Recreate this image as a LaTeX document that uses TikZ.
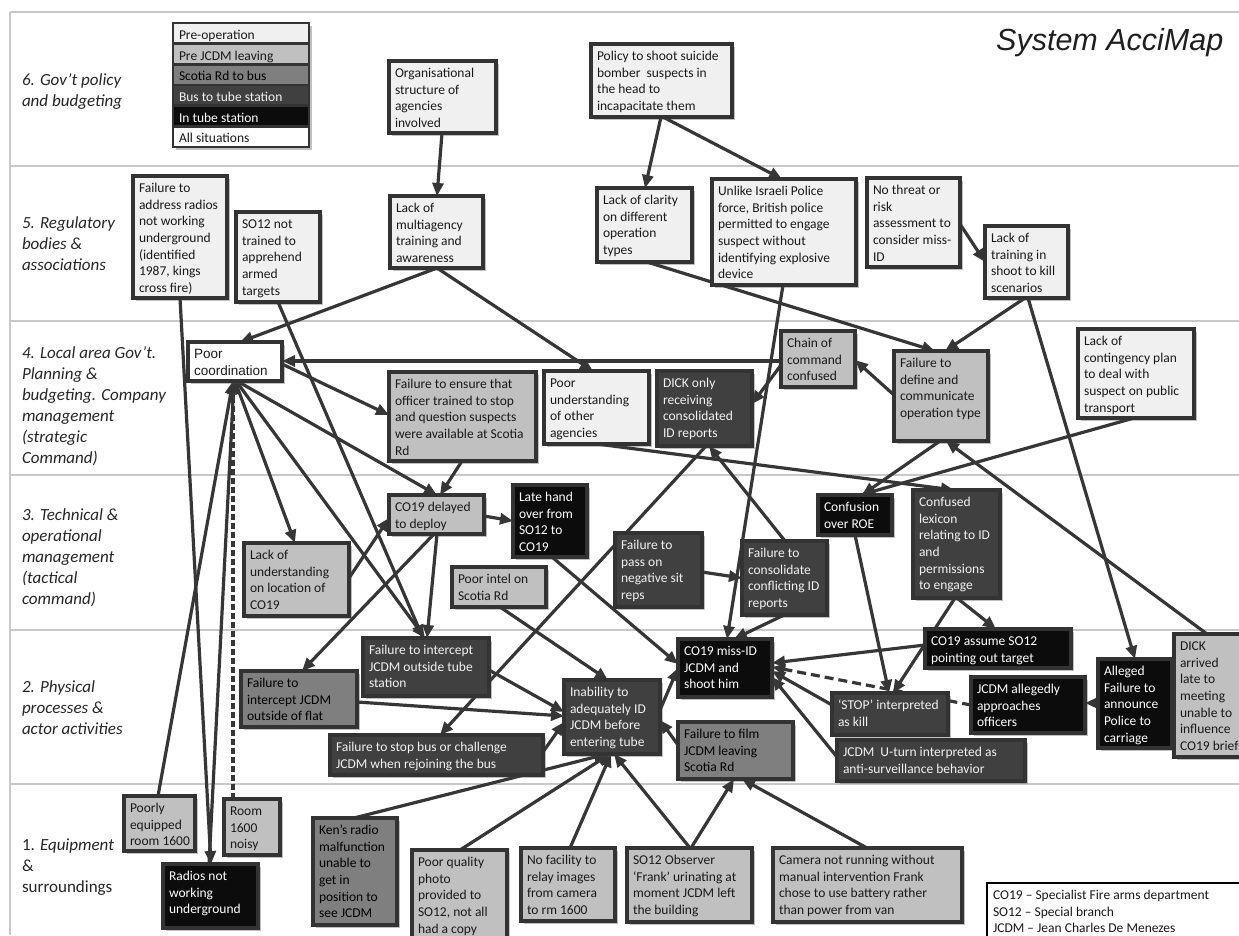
\documentclass[tikz,border=0pt]{standalone}
\usepackage{fontspec}
\setmainfont{Carlito}
\newfontfamily\arialfont{Liberation Sans}
\usetikzlibrary{arrows.meta,shadows}
\pgfdeclarelayer{back}
\pgfdeclarelayer{links}
\pgfsetlayers{back,links,main}

\definecolor{preop}{HTML}{F0F0F0}
\definecolor{prejcdm}{HTML}{C0C0C0}
\definecolor{scotia}{HTML}{7F7F7F}
\definecolor{bustube}{HTML}{404040}
\definecolor{intube}{HTML}{0C0C0C}
\definecolor{edge}{HTML}{333333}
\definecolor{wire}{HTML}{363636}
\definecolor{gridc}{HTML}{C8C8C8}
\definecolor{lighttext}{HTML}{F2F2F2}

\tikzset{
  shd/.style={drop shadow={shadow xshift=2.5pt, shadow yshift=-2.5pt, opacity=.35, fill=black!70}},
  box/.style={draw=edge, line width=3.2pt, outer sep=0pt, inner xsep=6pt, inner ysep=5pt,
    anchor=north west, text=black!90, font=\fontsize{13.5}{16.6}\selectfont},
  c1/.style={fill=preop, shd},
  c2/.style={fill=prejcdm, shd},
  c3/.style={fill=scotia, text=black, shd},
  c4/.style={fill=bustube, text=lighttext, shd},
  c5/.style={fill=intube, text=white, shd},
  c6/.style={fill=white, shd},
  leg/.style={line width=2.8pt},
  arialtext/.style={font=\arialfont\fontsize{13.5}{17}\selectfont},
  abbr/.style={fill=white, draw=black, line width=2pt},
  lab/.style={anchor=base west, inner sep=0pt, outer sep=0pt, text=black!85,
    font=\fontsize{17}{21}\selectfont},
  link/.style={draw=wire, line width=3.2pt, -{Triangle[length=13pt,width=11pt]}},
  dlink/.style={link, dash pattern=on 9pt off 5pt},
  slink/.style={link, dash pattern=on 6pt off 3pt},
}

% a block of left-aligned lines
\newcommand\lines[1]{\begin{tabular}[t]{@{}l@{}}#1\end{tabular}}
% box: name, styles, x1, y1, x2, y2, text (pixel units, y downwards)
\newcommand\mkbox[7]{%
  \pgfmathsetmacro\bw{#5-#3-12}%
  \pgfmathsetmacro\bh{#6-#4-10}%
  \node[box,#2] (#1) at (#3,#4) {\parbox[c][\bh pt][t]{\bw pt}{\lines{#7}}};%
}
% connector between two nodes, end points given relative to their north west corners
\newcommand\lk[5][link]{%
  \draw[#1] ([shift={(#3)}]#2.north west) -- ([shift={(#5)}]#4.north west);%
}

\begin{document}
\begin{tikzpicture}[x=1pt, y=-1pt]
\path[use as bounding box] (0,0) rectangle (1239,935);
\clip (0,0) rectangle (1239,935);

\begin{pgfonlayer}{back}
  \fill[white] (0,0) rectangle (1239,935);
  \foreach \yy in {12,166,321,475,630,784}
    \draw[gridc, line width=1.5pt] (10,\yy) -- (1239,\yy);
  \draw[gridc, line width=1.5pt] (10,12) -- (10,935);
\end{pgfonlayer}

% level labels
\node[lab] (lab6) at (22,85) {\itshape\lines{6. Gov’t policy\\and budgeting}};
\node[lab] (lab5) at (22,228.5) {\itshape\lines{5. Regulatory\\bodies \&\\associations}};
\node[lab] (lab4) at (22,358.5) {\itshape\lines{4. Local area Gov’t.\\Planning \&\\budgeting. Company\\management\\(strategic\\Command)}};
\node[lab] (lab3) at (22,520.5) {\itshape\lines{3. Technical \&\\operational\\management\\(tactical\\command)}};
\node[lab] (lab2) at (22,692.5) {\itshape\lines{2. Physical\\processes \&\\actor activities}};
\node[lab] (lab1) at (22,850.5) {\lines{1. \textit{Equipment}\\\&\\surroundings}};

\node[anchor=base west, inner sep=0pt, text=black!88,
  font=\arialfont\itshape\fontsize{30.5}{36}\selectfont] (title) at (996,50) {System AcciMap};

% colour key
\mkbox{legA}{c1,leg}{173}{23}{309}{43.67}{Pre-operation}
\mkbox{legB}{c2,leg}{173}{43.67}{309}{64.33}{Pre JCDM leaving}
\mkbox{legC}{c3,leg}{173}{64.33}{309}{85}{Scotia Rd to bus}
\mkbox{legD}{c4,leg}{173}{85}{309}{105.67}{Bus to tube station}
\mkbox{legE}{c5,leg}{173}{105.67}{309}{126.33}{In tube station}
\mkbox{legF}{c6,leg}{173}{126.33}{309}{147}{All situations}

% level 6
\mkbox{org}{c1}{389}{61}{496}{133}{Organisational\\structure of\\agencies\\involved}
\mkbox{policy}{c1}{591}{44}{732}{117}{Policy to shoot suicide\\bomber\ \ suspects in\\the head to\\incapacitate them}

% level 5
\mkbox{addr}{c1}{133}{176}{227}{298}{Failure to\\address radios\\not working\\underground\\(identified\\1987, kings\\cross fire)}
\mkbox{so12nt}{c1}{236}{212}{320}{302}{SO12 not\\trained to\\apprehend\\armed\\targets}
\mkbox{multi}{c1}{390}{196}{483}{268}{Lack of\\multiagency\\training and\\awareness}
\mkbox{clarity}{c1}{597}{188}{692}{262}{Lack of clarity\\on different\\operation\\types}
\mkbox{israeli}{c1}{712}{179}{856}{285}{Unlike Israeli Police\\force, British police\\permitted to engage\\suspect without\\identifying explosive\\device}
\mkbox{nothreat}{c1}{867}{178}{960}{267}{No threat or\\risk\\assessment to\\consider miss-\\ID}
\mkbox{training}{c1}{985}{226}{1068}{298}{Lack of\\training in\\shoot to kill\\scenarios}

% level 4
\mkbox{poorcoord}{c6,arialtext}{188}{342}{282}{381}{Poor\\coordination}
\mkbox{ensure}{c2}{389}{372}{536}{461}{Failure to ensure that\\officer trained to stop\\and question suspects\\were available at Scotia\\Rd}
\mkbox{poorund}{c1}{544}{371}{649}{444}{Poor\\understanding\\of other\\agencies}
\mkbox{dick}{c4}{657}{371}{752}{446}{DICK only\\receiving\\consolidated\\ID reports}
\mkbox{chain}{c2}{781}{331}{855}{387}{Chain of\\command\\confused}
\mkbox{define}{c2}{894}{351}{988}{441}{Failure to\\define and\\communicate\\operation type}
\mkbox{conting}{c1}{1078}{329}{1194}{418}{Lack of\\contingency plan\\to deal with\\suspect on public\\transport}

% level 3
\mkbox{lackund}{c2}{244}{543}{349}{616}{Lack of\\understanding\\on location of\\CO19}
\mkbox{delayed}{c2}{389}{495}{484}{534}{CO19 delayed\\to deploy}
\mkbox{handover}{c5}{513}{485}{587}{557}{Late hand\\over from\\SO12 to\\CO19}
\mkbox{intel}{c2}{452}{567}{546}{607}{Poor intel on\\Scotia Rd}
\mkbox{passon}{c4}{615}{533}{702}{607}{Failure to\\pass on\\negative sit\\reps}
\mkbox{consol}{c4}{742}{541}{827}{615}{Failure to\\consolidate\\conflicting ID\\reports}
\mkbox{roe}{c5}{818}{495}{892}{535}{Confusion\\over ROE}
\mkbox{lexicon}{c4}{913}{490}{1000}{598}{Confused\\lexicon\\relating to ID\\and\\permissions\\to engage}

% level 2
\mkbox{tube}{c4}{363}{638}{489}{696}{Failure to intercept\\JCDM outside tube\\station}
\mkbox{flat}{c3}{241}{671}{357}{727}{Failure to\\intercept JCDM\\outside of flat}
\mkbox{stopbus}{c4}{330}{735}{543}{775}{Failure to stop bus or challenge\\JCDM when rejoining the bus}
\mkbox{inability}{c4}{564}{680}{660}{754}{Inability to\\adequately ID\\JCDM before\\entering tube}
\mkbox{missid}{c5}{678}{639}{772}{697}{CO19 miss-ID\\JCDM and\\shoot him}
\mkbox{film}{c3}{678}{722}{793}{779}{Failure to film\\JCDM leaving\\Scotia Rd}
\mkbox{assume}{c5}{925}{629}{1071}{668}{CO19 assume SO12\\pointing out target}
\mkbox{stop}{c4}{832}{693}{948}{735}{‘STOP’ interpreted\\as kill}
\mkbox{approach}{c5}{971}{677}{1085}{733}{JCDM allegedly\\approaches\\officers}
\mkbox{uturn}{c4}{837}{740}{1025}{781}{JCDM\ \ U-turn interpreted as\\anti-surveillance behavior}
\mkbox{announce}{c5}{1098}{659}{1172}{748}{Alleged\\Failure to\\announce\\Police to\\carriage}
\mkbox{late}{c2}{1174}{634}{1250}{757}{DICK\\arrived\\late to\\meeting\\unable to\\influence\\CO19 brief}

% level 1
\mkbox{poorly}{c2}{124}{796}{195}{851}{Poorly\\equipped\\room 1600}
\mkbox{noisy}{c2}{224}{799}{280}{855}{Room\\1600\\noisy}
\mkbox{radios}{c5}{163}{864}{258}{928}{Radios not\\working\\underground}
\mkbox{ken}{c3}{313}{818}{397}{925}{Ken’s radio\\malfunction\\unable to\\get in\\position to\\see JCDM}
\mkbox{photo}{c2}{412}{850}{507}{950}{Poor quality\\photo\\provided to\\SO12, not all\\had a copy}
\mkbox{relay}{c2}{521}{848}{615}{921}{No facility to\\relay images\\from camera\\to rm 1600}
\mkbox{frank}{c2}{627}{848}{752}{922}{SO12 Observer\\‘Frank’ urinating at\\moment JCDM left\\the building}
\mkbox{camera}{c2}{773}{848}{962}{922}{Camera not running without\\manual intervention Frank\\chose to use battery rather\\than power from van}

% abbreviations
\mkbox{abbrev}{abbr}{987}{883}{1250}{950}{CO19 – Specialist Fire arms department\\SO12 – Special branch\\JCDM – Jean Charles De Menezes}

\begin{pgfonlayer}{links}
  \lk{org}{53,72}{multi}{47,0}
  \lk{policy}{70,73}{clarity}{48,0}
  \lk{policy}{72,73}{israeli}{70,0}
  \lk{nothreat}{93,46}{training}{0,36}
  \lk{multi}{47,72}{poorcoord}{52,0}
  \lk{multi}{47,72}{poorund}{49,0}
  \lk{clarity}{50,74}{define}{41,0}
  \lk{training}{40,72}{define}{51,0}
  \lk{training}{43,72}{announce}{37,0}
  \lk{israeli}{71,106}{missid}{49,0}
  \lk{define}{0,44}{chain}{74,29}
  \lk{chain}{0,30}{poorcoord}{94,19}
  \lk{chain}{0,34}{dick}{95,33}
  \lk{poorcoord}{94,22}{ensure}{0,43}
  \lk{poorcoord}{47,39}{lackund}{51,0}
  \lk{poorcoord}{49,39}{delayed}{48,0}
  \lk{poorcoord}{48,39}{tube}{62,0}
  \lk{so12nt}{42,90}{tube}{60,0}
  \lk{delayed}{48,39}{tube}{64,0}
  \lk{ensure}{73,89}{delayed}{51,0}
  \lk{delayed}{95,21}{handover}{0,36}
  \lk{lackund}{105,35}{delayed}{0,23}
  \lk{delayed}{45,39}{flat}{61,0}
  \lk{handover}{39,72}{missid}{0,25}
  \lk{intel}{48,40}{inability}{44,0}
  \lk{tube}{126,32}{inability}{0,32}
  \lk{flat}{116,31}{inability}{0,36}
  \lk{stopbus}{213,17}{inability}{0,42}
  \lk{dick}{49,75}{stopbus}{110,0}
  \lk{consol}{43,0}{dick}{52,75}
  \lk{passon}{87,39}{consol}{0,37}
  \lk{consol}{42,74}{missid}{56,0}
  \lk{inability}{96,30}{missid}{0,29}
  \lk{film}{0,23}{inability}{96,40}
  \lk{photo}{48,0}{inability}{46,74}
  \lk{relay}{49,0}{inability}{47,74}
  \lk{frank}{63,0}{inability}{50,74}
  \lk{frank}{64,0}{film}{56,57}
  \lk{camera}{94,0}{film}{64,57}
  \lk{ken}{41,0}{inability}{43,74}
  \lk{roe}{37,40}{stop}{57,0}
  \lk{define}{46,90}{roe}{44,0}
  \lk{conting}{56,89}{roe}{42,0}
  \lk{poorund}{53,73}{lexicon}{41,0}
  \lk{late}{33,0}{define}{52,90}
  \lk{lexicon}{44,108}{assume}{71,0}
  \lk{lexicon}{42,108}{stop}{61,0}
  \lk{assume}{0,16}{missid}{94,24}
  \lk{stop}{0,12}{missid}{94,32}
  \lk{uturn}{0,17}{missid}{94,38}
  \lk[dlink]{approach}{0,28}{missid}{94,28}
  \lk{announce}{0,44}{approach}{114,26}
  \lk{addr}{47,122}{radios}{48,0}
  \lk{radios}{46,0}{poorcoord}{46,39}
  \lk{poorly}{34,0}{poorcoord}{45,39}
  \lk[slink]{noisy}{9,0}{poorcoord}{45,39}
\end{pgfonlayer}
\end{tikzpicture}
\end{document}
